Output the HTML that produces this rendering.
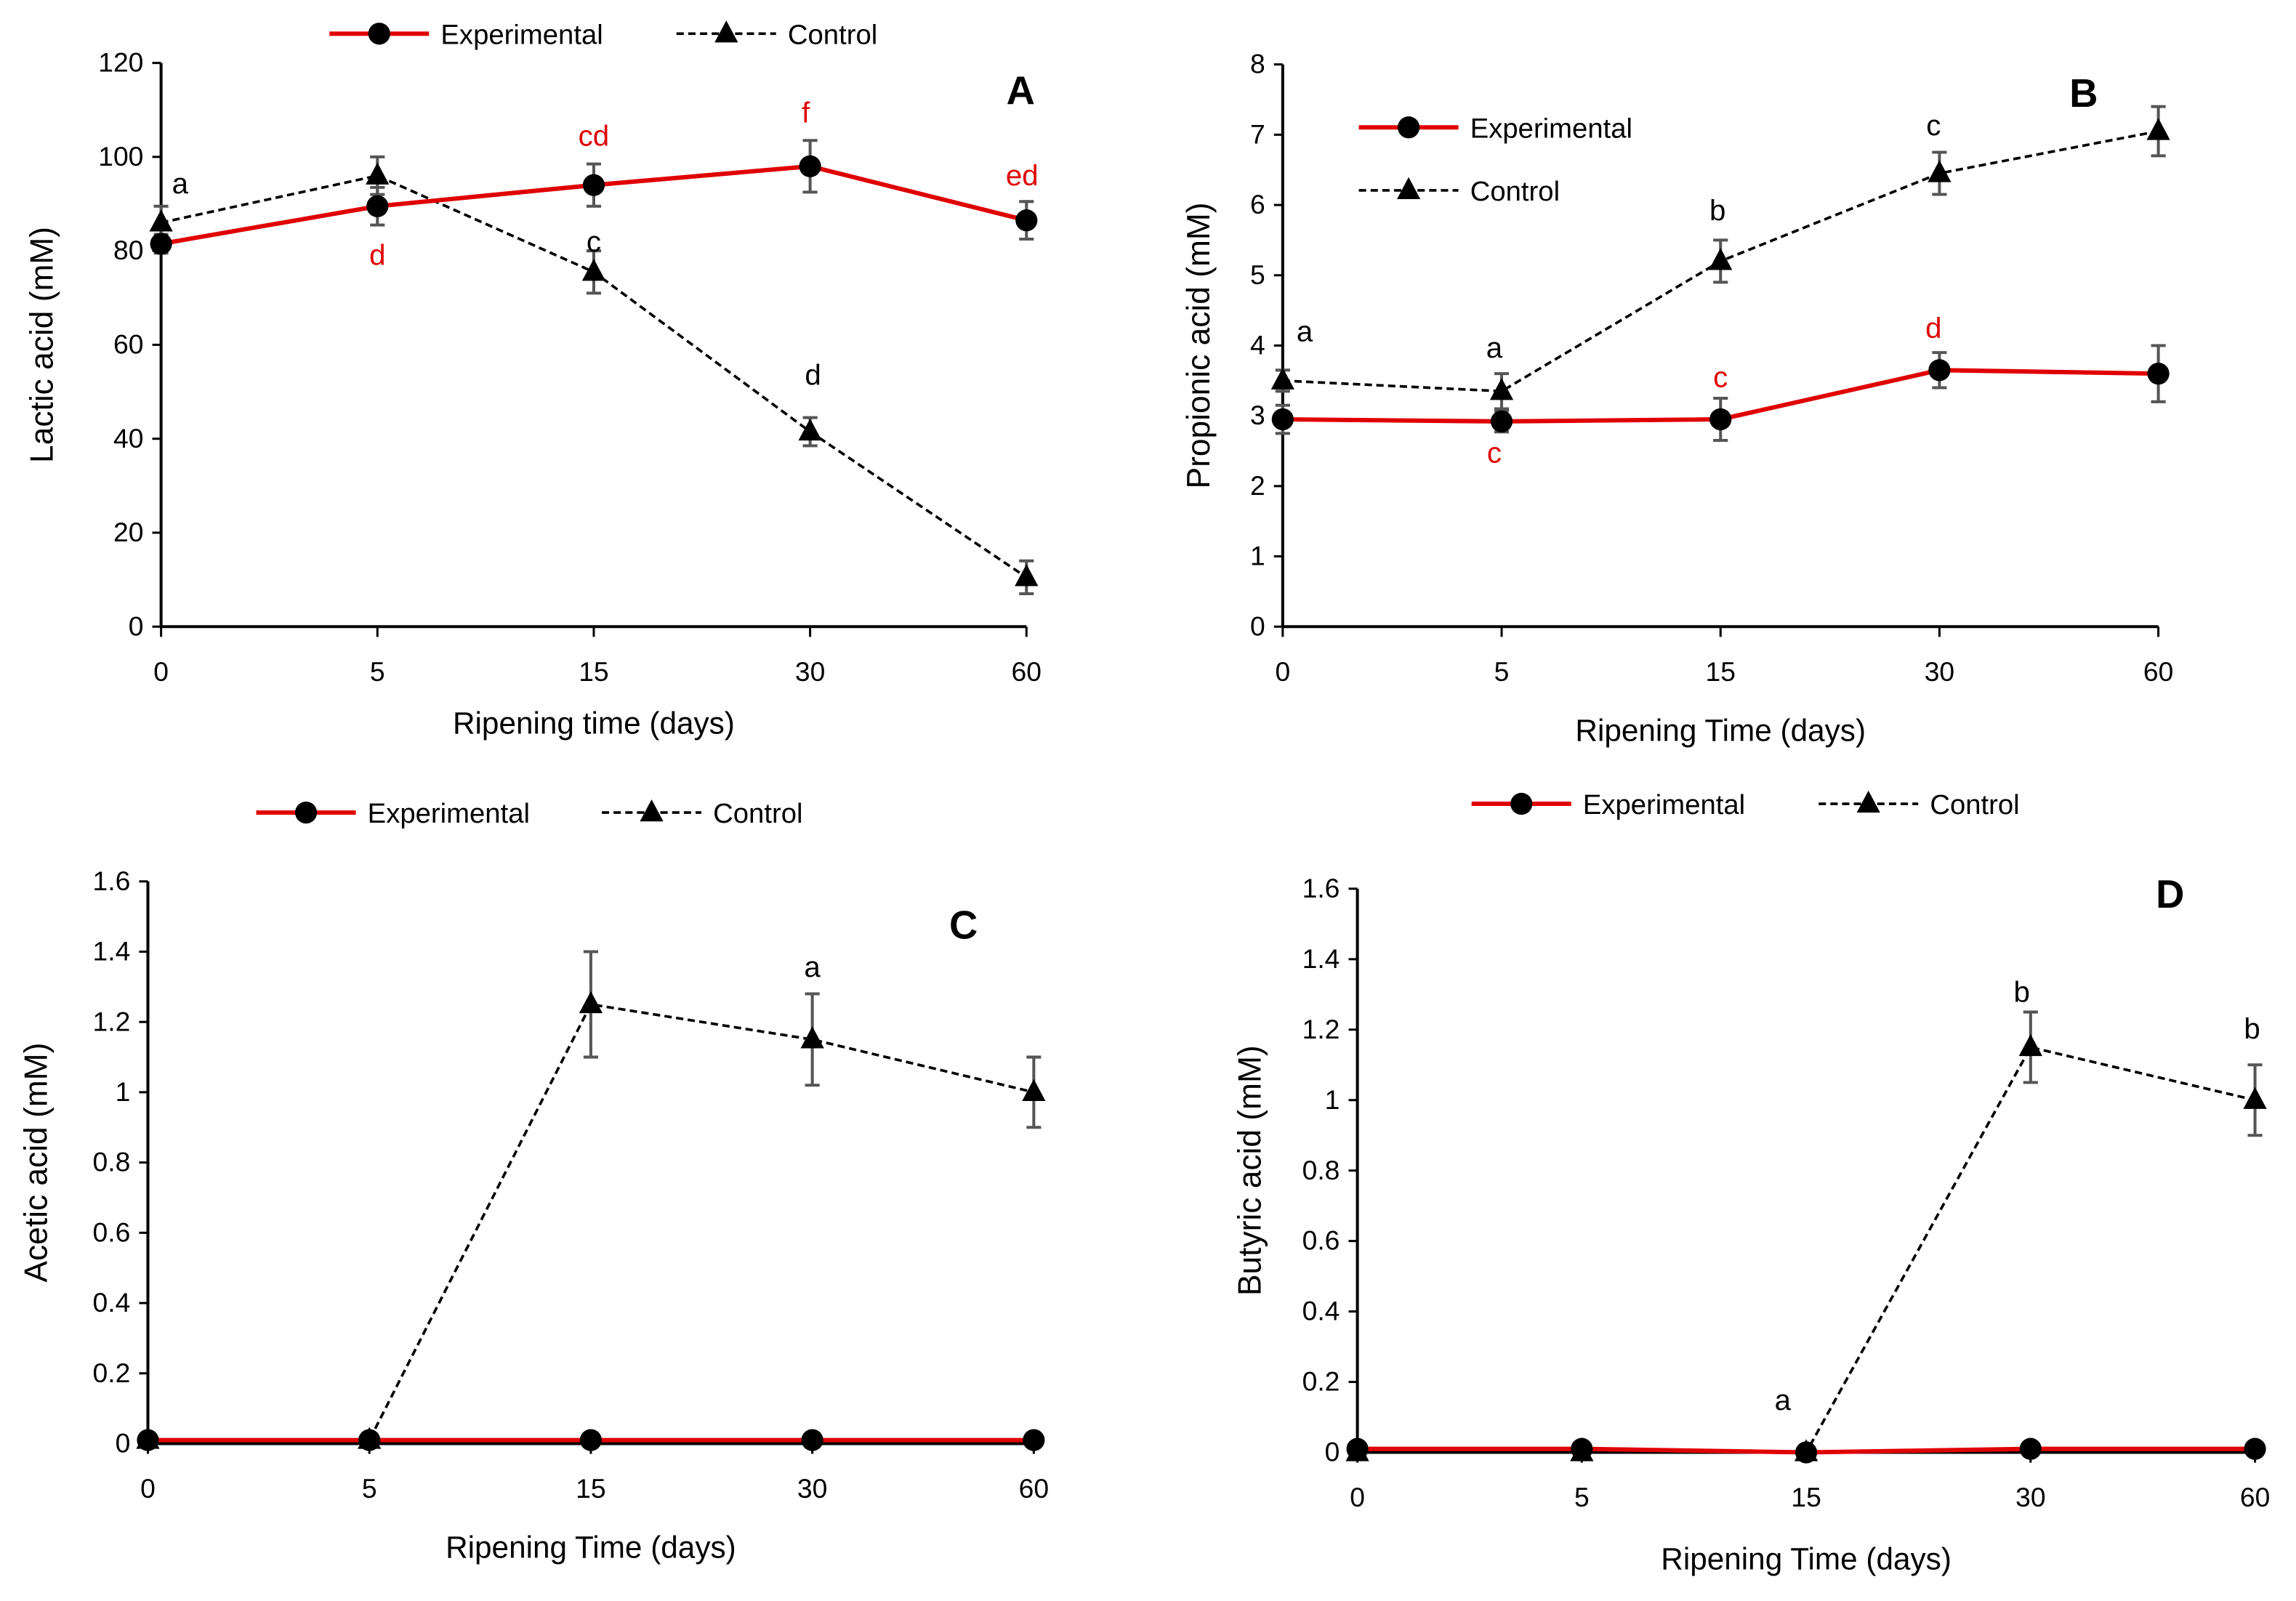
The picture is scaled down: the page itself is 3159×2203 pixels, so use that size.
<!DOCTYPE html>
<html><head><meta charset="utf-8"><style>
html,body{margin:0;padding:0;background:#fff}
svg{display:block}
text{font-family:"Liberation Sans",sans-serif}
</style></head><body>
<svg id="fig" width="3159" height="2203" viewBox="0 0 1568 1093.5" preserveAspectRatio="none" xmlns="http://www.w3.org/2000/svg"></svg>
<script>
const categories = ["0","5","15","30","60"];
// Panel A
const expA = [81.5, 89.5, 94, 98, 86.5];
const expAErr = [2, 4, 4.5, 5.5, 4];
const ctrlA = [86, 96, 75.5, 41.5, 10.5];
const ctrlAErr = [3.5, 4, 4.5, 3, 3.5];
const ticksA = [0,20,40,60,80,100,120];
// Panel B
const expB = [2.95, 2.92, 2.95, 3.65, 3.6];
const expBErr = [0.2, 0.15, 0.3, 0.25, 0.4];
const ctrlB = [3.5, 3.35, 5.2, 6.45, 7.05];
const ctrlBErr = [0.15, 0.25, 0.3, 0.3, 0.35];
const ticksB = [0,1,2,3,4,5,6,7,8];
// Panel C
const expC = [0.01, 0.01, 0.01, 0.01, 0.01];
const expCErr = [0, 0, 0, 0, 0];
const ctrlC = [0.01, 0.01, 1.25, 1.15, 1.0];
const ctrlCErr = [0, 0, 0.15, 0.13, 0.1];
const ticksC = ["0","0.2","0.4","0.6","0.8","1","1.2","1.4","1.6"];
// Panel D
const expD = [0.01, 0.01, 0, 0.01, 0.01];
const expDErr = [0, 0, 0, 0, 0];
const ctrlD = [0, 0, 0, 1.15, 1.0];
const ctrlDErr = [0, 0, 0, 0.1, 0.1];
const ticksD = ["0","0.2","0.4","0.6","0.8","1","1.2","1.4","1.6"];

const NS = "http://www.w3.org/2000/svg";
const svg = document.getElementById('fig');
function mk(tag, attrs, parent){const e=document.createElementNS(NS,tag);for(const k in attrs)e.setAttribute(k,attrs[k]);(parent||svg).appendChild(e);return e;}
function txt(s, attrs, parent){const e=mk('text',attrs,parent);e.textContent=s;return e;}

function panel(p){
  const g = mk('g',{});
  
  
  const n = categories.length;
  const xs = i => p.x0 + (p.x1 - p.x0) * i / (n-1);
  const ys = v => p.y0 - (p.y0 - p.yTop) * v / p.ymax;
  const ya = mk('line',{x1:p.x0,y1:p.yTop,x2:p.x0,y2:p.y0,stroke:'#000','stroke-width':2},g);
   
  const xa = mk('line',{x1:p.x0,y1:p.y0,x2:p.x1,y2:p.y0,stroke:'#000','stroke-width':2},g);
   
  p.ticks.forEach(t=>{
    const v = parseFloat(t), y = ys(v);
    mk('line',{x1:p.x0-6,y1:y,x2:p.x0,y2:y,stroke:'#000','stroke-width':1.5},g);
    const l = txt(String(t),{x:p.x0-12,y:y+6,'font-size':18.5,'text-anchor':'end',fill:'#000'},g);
     
  });
  categories.forEach((c,i)=>{
    const x = xs(i);
    mk('line',{x1:x,y1:p.y0,x2:x,y2:p.y0+7,stroke:'#000','stroke-width':1.5},g);
    const l = txt(c,{x:x,y:p.y0+37,'font-size':18.5,'text-anchor':'middle',fill:'#000'},g);
     
  });
  const xt = txt(p.xTitle,{x:(p.x0+p.x1)/2,y:p.xTitleY,'font-size':21,'text-anchor':'middle',fill:'#000'},g);
   
  const yc = (p.y0+p.yTop)/2;
  const yt = txt(p.yTitle,{x:p.yTitleX,y:yc,'font-size':22,'text-anchor':'middle',fill:'#000',transform:`rotate(-90 ${p.yTitleX} ${yc})`},g);
   
  const pl = txt(p.id,{x:p.letterX,y:p.letterY,'font-size':27,'font-weight':'bold','text-anchor':'middle',fill:'#000'},g);
   

  function series(vals, errs, color, dashed, marker, name){
    const sg = mk('g',{},g);
    
    
    mk('polyline',{points:vals.map((v,i)=>xs(i)+','+ys(v)).join(' '),fill:'none',stroke:color,'stroke-width':dashed?1.8:3,'stroke-dasharray':dashed?'5,3':'none'},sg);
    vals.forEach((v,i)=>{
      const x=xs(i), e=errs[i];
      if(e>0){
        mk('line',{x1:x,y1:ys(v-e),x2:x,y2:ys(v+e),stroke:'#555','stroke-width':2},sg);
        mk('line',{x1:x-5,y1:ys(v-e),x2:x+5,y2:ys(v-e),stroke:'#555','stroke-width':2},sg);
        mk('line',{x1:x-5,y1:ys(v+e),x2:x+5,y2:ys(v+e),stroke:'#555','stroke-width':2},sg);
      }
      const y=ys(v);
      let m;
      if(marker==='circle') m=mk('circle',{cx:x,cy:y,r:7.5,fill:'#000'},sg);
      else m=mk('polygon',{points:`${x},${y-9} ${x-8},${y+6} ${x+8},${y+6}`,fill:'#000'},sg);
      
      
    });
  }
  series(p.ctrl, p.ctrlErr, '#000', true, 'tri', 'control-series');
  series(p.exp, p.expErr, '#e00000', false, 'circle', 'experimental-series');
  p.letters.forEach(L=>{
    const [i,which,s,col,dx,dy]=L;
    const v = which==='e'?p.exp[i]:p.ctrl[i];
    const t = txt(s,{x:xs(i)+dx,y:ys(v)+dy,'font-size':20,'text-anchor':'middle',fill:col},g);
     
  });
  const lg = mk('g',{},g);
  
  
  p.legend.forEach((L,k)=>{
    const [lx,ly]=L;
    const eg = mk('g',{},lg);
    
    
    if(k===0){
      mk('line',{x1:lx,y1:ly,x2:lx+68,y2:ly,stroke:'#e00000','stroke-width':3},eg);
      mk('circle',{cx:lx+34,cy:ly,r:7.5,fill:'#000'},eg);
      txt('Experimental',{x:lx+76,y:ly+7,'font-size':19,fill:'#000'},eg);
    } else {
      mk('line',{x1:lx,y1:ly,x2:lx+68,y2:ly,stroke:'#000','stroke-width':1.8,'stroke-dasharray':'5,3'},eg);
      mk('polygon',{points:`${lx+34},${ly-9} ${lx+26},${ly+6} ${lx+42},${ly+6}`,fill:'#000'},eg);
      txt('Control',{x:lx+76,y:ly+7,'font-size':19,fill:'#000'},eg);
    }
  });
}

const R='#e00000', K='#000';
panel({id:'A',x0:110,x1:701,y0:428,yTop:43,ymax:120,ticks:ticksA,exp:expA,expErr:expAErr,ctrl:ctrlA,ctrlErr:ctrlAErr,
  xTitle:'Ripening time (days)',xTitleY:501,yTitle:'Lactic acid (mM)',yTitleX:36,letterX:697,letterY:71,
  legend:[[225,23],[462,23]],
  letters:[[0,'c','a',K,13,-20],[1,'e','d',R,0,40],[2,'e','cd',R,0,-27],[2,'c','c',K,0,-14],[3,'e','f',R,-3,-30],[3,'c','d',K,2,-32],[4,'e','ed',R,-3,-24]]});
panel({id:'B',x0:876,x1:1474,y0:428,yTop:44,ymax:8,ticks:ticksB,exp:expB,expErr:expBErr,ctrl:ctrlB,ctrlErr:ctrlBErr,
  xTitle:'Ripening Time (days)',xTitleY:506,yTitle:'Propionic acid (mM)',yTitleX:826,letterX:1423,letterY:73,
  legend:[[928,87],[928,130]],
  letters:[[0,'c','a',K,15,-27],[1,'c','a',K,-5,-23],[1,'e','c',R,-5,28],[2,'c','b',K,-2,-28],[2,'e','c',R,0,-22],[3,'c','c',K,-4,-26],[3,'e','d',R,-4,-22]]});
panel({id:'C',x0:101,x1:706,y0:986,yTop:602,ymax:1.6,ticks:ticksC,exp:expC,expErr:expCErr,ctrl:ctrlC,ctrlErr:ctrlCErr,
  xTitle:'Ripening Time (days)',xTitleY:1064,yTitle:'Acetic acid (mM)',yTitleX:32,letterX:658,letterY:641,
  legend:[[175,555],[411,555]],
  letters:[[3,'c','a',K,0,-43]]});
panel({id:'D',x0:927,x1:1540,y0:992,yTop:607,ymax:1.6,ticks:ticksD,exp:expD,expErr:expDErr,ctrl:ctrlD,ctrlErr:ctrlDErr,
  xTitle:'Ripening Time (days)',xTitleY:1072,yTitle:'Butyric acid (mM)',yTitleX:861,letterX:1482,letterY:620,
  legend:[[1005,549],[1242,549]],
  letters:[[2,'c','a',K,-16,-29],[3,'c','b',K,-6,-31],[4,'c','b',K,-2,-42]]});
</script>
</body></html>
